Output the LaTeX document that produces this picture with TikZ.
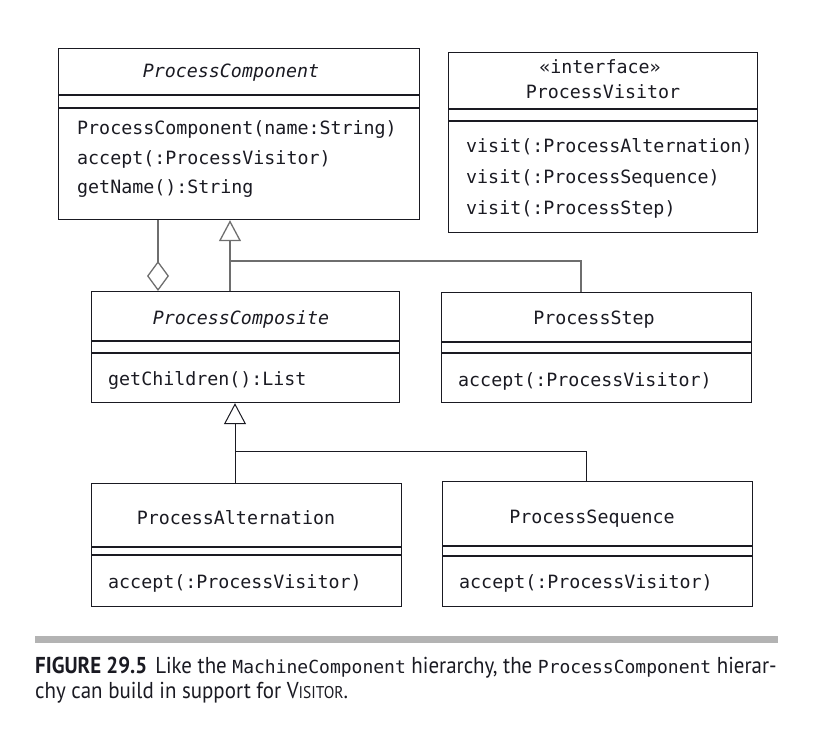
\documentclass[tikz,border=0pt]{standalone}
\usepackage{fontspec}
\setmainfont[FakeStretch=0.91]{PT Sans}
\newfontfamily\umlfont{DejaVu Sans Mono}
\newfontfamily\capmonofont{DejaVu Sans Mono}
\usetikzlibrary{arrows.meta}
\definecolor{ink}{HTML}{1A1A22}
\definecolor{linegray}{HTML}{6E6E6E}
\definecolor{bargray}{HTML}{B3B3B3}
\newcommand{\capmono}[1]{{\capmonofont\fontsize{18}{20}\selectfont #1}}
\begin{document}
\begin{tikzpicture}[x=1pt,y=-1pt,
  box/.style={draw=ink, line width=1.2pt, anchor=north west, inner sep=0pt, rectangle},
  sep/.style={draw=ink, line width=1.2pt},
  uml/.style={font=\umlfont\fontsize{18.3}{20}\selectfont, text=ink, inner sep=0pt},
  op/.style={uml, anchor=west},
  ttl/.style={uml},
  ittl/.style={uml, font=\umlfont\fontsize{18.3}{20}\selectfont\itshape},
  conn/.style={draw=linegray, line width=1.3pt},
  conndark/.style={draw=ink, line width=1pt},
  gen/.style={-{Triangle[open, length=21pt, width=22pt]}},
  agg/.style={-{Diamond[open, length=30pt, width=22pt]}},
  captext/.style={anchor=base west, inner sep=0pt, text=ink, font=\fontsize{23}{25}\selectfont}
]
\useasboundingbox (0,0) rectangle (839,741);

% ProcessComponent
\node[box, minimum width=361pt, minimum height=171pt] (pc) at (58,48) {};
\draw[sep] (pc.west |- 0,95) -- (pc.east |- 0,95);
\draw[sep] (pc.west |- 0,108) -- (pc.east |- 0,108);
\node[ittl] (pct) at (231,73) {ProcessComponent};
\node[op] (pco1) at (77,130) {ProcessComponent(name:String)};
\node[op] (pco2) at (77,159) {accept(:ProcessVisitor)};
\node[op] (pco3) at (77,189) {getName():String};

% ProcessVisitor
\node[box, minimum width=309pt, minimum height=180pt] (pv) at (448,52) {};
\draw[sep] (pv.west |- 0,109) -- (pv.east |- 0,109);
\draw[sep] (pv.west |- 0,121) -- (pv.east |- 0,121);
\node[ttl] (pvs) at (600,67) {«interface»};
\node[ttl] (pvt) at (603,92) {ProcessVisitor};
\node[op] (pvo1) at (466,147) {visit(:ProcessAlternation)};
\node[op] (pvo2) at (466,178) {visit(:ProcessSequence)};
\node[op] (pvo3) at (466,209) {visit(:ProcessStep)};

% ProcessComposite
\node[box, minimum width=308pt, minimum height=111pt] (pcomp) at (91,291) {};
\draw[sep] (pcomp.west |- 0,341) -- (pcomp.east |- 0,341);
\draw[sep] (pcomp.west |- 0,353) -- (pcomp.east |- 0,353);
\node[ittl] (pcompt) at (241,319) {ProcessComposite};
\node[op] (pcompo1) at (108,380) {getChildren():List};

% ProcessStep
\node[box, minimum width=310pt, minimum height=110pt] (pstep) at (441,292) {};
\draw[sep] (pstep.west |- 0,342) -- (pstep.east |- 0,342);
\draw[sep] (pstep.west |- 0,353) -- (pstep.east |- 0,353);
\node[ttl] (pstept) at (594,320) {ProcessStep};
\node[op] (pstepo1) at (458,381) {accept(:ProcessVisitor)};

% ProcessAlternation
\node[box, minimum width=310pt, minimum height=123pt] (palt) at (91,483) {};
\draw[sep] (palt.west |- 0,547) -- (palt.east |- 0,547);
\draw[sep] (palt.west |- 0,555) -- (palt.east |- 0,555);
\node[ttl] (paltt) at (236,518) {ProcessAlternation};
\node[op] (palto1) at (108,583) {accept(:ProcessVisitor)};

% ProcessSequence
\node[box, minimum width=310pt, minimum height=125pt] (pseq) at (442,481) {};
\draw[sep, line width=2.2pt] (pseq.west |- 0,546) -- (pseq.east |- 0,546);
\draw[sep] (pseq.west |- 0,556) -- (pseq.east |- 0,556);
\node[ttl] (pseqt) at (592,519) {ProcessSequence};
\node[op] (pseqo1) at (459,583) {accept(:ProcessVisitor)};

% connectors (upper)
\draw[conn, agg] (pc.south -| 158,0) -- (pcomp.north -| 158,0);
\draw[conn, gen] (pcomp.north -| 230,0) -- (pc.south -| 230,0);
\coordinate (j1) at (230,261);
\draw[conn] (j1) -| (pstep.north -| 581,0);

% connectors (lower)
\draw[conndark, gen] (palt.north -| 235,0) -- (pcomp.south -| 235,0);
\coordinate (j2) at (235,451);
\draw[conndark] (j2) -| (pseq.north -| 586,0);

% caption
\fill[bargray] (35,636) rectangle (778,643);
\node[captext] (cap1) at (35,673) {\textbf{FIGURE 29.5}\hspace{0.35em}Like the \capmono{MachineComponent} hierarchy, the \capmono{ProcessComponent} hierar-};
\node[captext] (cap2) at (35,698) {chy can build in support for V{\fontsize{17}{20}\selectfont ISITOR}.};
\end{tikzpicture}
\end{document}
